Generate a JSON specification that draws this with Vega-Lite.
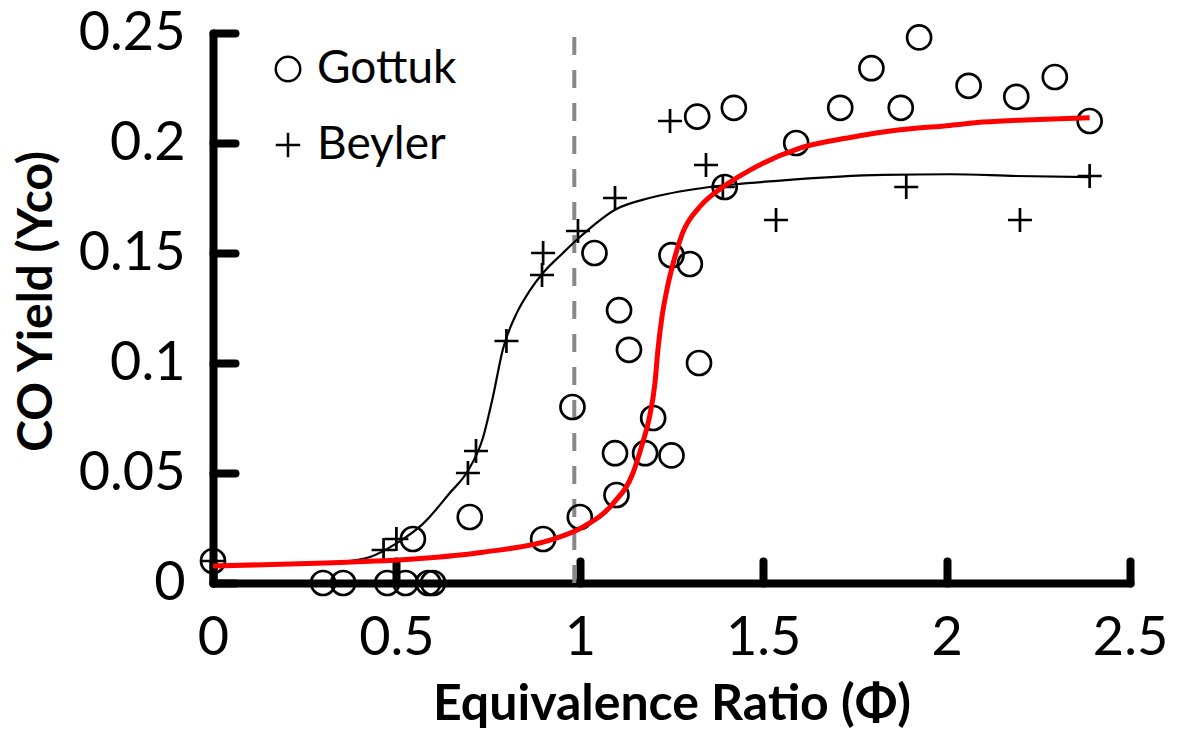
{
  "$schema": "https://vega.github.io/schema/vega-lite/v6.json",
  "autosize": "none",
  "width": 917,
  "height": 550,
  "padding": {"left": 213, "top": 33, "right": 47, "bottom": 159},
  "background": "white",
  "config": {
    "view": {"stroke": null},
    "font": "Lato",
    "axis": {
      "grid": false,
      "domainColor": "black",
      "domainWidth": 8,
      "domainCap": "round",
      "tickColor": "black",
      "tickWidth": 8,
      "tickCap": "round",
      "tickSize": -22,
      "labelFlush": false,
      "labelFont": "Lato",
      "labelFontSize": 54,
      "labelColor": "black",
      "titleFont": "Lato",
      "titleFontWeight": "bold",
      "titleColor": "black"
    }
  },
  "datasets": {
    "points": [
      {"phi": 0, "yco": 0.01, "source": "Gottuk"},
      {"phi": 0.3, "yco": 0, "source": "Gottuk"},
      {"phi": 0.355, "yco": 0, "source": "Gottuk"},
      {"phi": 0.475, "yco": 0, "source": "Gottuk"},
      {"phi": 0.525, "yco": 0, "source": "Gottuk"},
      {"phi": 0.587, "yco": 0, "source": "Gottuk"},
      {"phi": 0.6, "yco": 0, "source": "Gottuk"},
      {"phi": 0.545, "yco": 0.02, "source": "Gottuk"},
      {"phi": 0.7, "yco": 0.03, "source": "Gottuk"},
      {"phi": 0.9, "yco": 0.02, "source": "Gottuk"},
      {"phi": 1.0, "yco": 0.03, "source": "Gottuk"},
      {"phi": 1.1, "yco": 0.04, "source": "Gottuk"},
      {"phi": 0.98, "yco": 0.08, "source": "Gottuk"},
      {"phi": 1.04, "yco": 0.15, "source": "Gottuk"},
      {"phi": 1.107, "yco": 0.124, "source": "Gottuk"},
      {"phi": 1.134, "yco": 0.106, "source": "Gottuk"},
      {"phi": 1.096, "yco": 0.059, "source": "Gottuk"},
      {"phi": 1.178, "yco": 0.059, "source": "Gottuk"},
      {"phi": 1.2, "yco": 0.075, "source": "Gottuk"},
      {"phi": 1.25, "yco": 0.058, "source": "Gottuk"},
      {"phi": 1.25, "yco": 0.149, "source": "Gottuk"},
      {"phi": 1.3, "yco": 0.145, "source": "Gottuk"},
      {"phi": 1.325, "yco": 0.1, "source": "Gottuk"},
      {"phi": 1.32, "yco": 0.212, "source": "Gottuk"},
      {"phi": 1.42, "yco": 0.216, "source": "Gottuk"},
      {"phi": 1.395, "yco": 0.18, "source": "Gottuk"},
      {"phi": 1.59, "yco": 0.2, "source": "Gottuk"},
      {"phi": 1.71, "yco": 0.216, "source": "Gottuk"},
      {"phi": 1.795, "yco": 0.234, "source": "Gottuk"},
      {"phi": 1.875, "yco": 0.216, "source": "Gottuk"},
      {"phi": 1.925, "yco": 0.248, "source": "Gottuk"},
      {"phi": 2.06, "yco": 0.226, "source": "Gottuk"},
      {"phi": 2.19, "yco": 0.221, "source": "Gottuk"},
      {"phi": 2.295, "yco": 0.23, "source": "Gottuk"},
      {"phi": 2.39, "yco": 0.21, "source": "Gottuk"},
      {"phi": 0, "yco": 0.01, "source": "Beyler"},
      {"phi": 0.465, "yco": 0.015, "source": "Beyler"},
      {"phi": 0.5, "yco": 0.02, "source": "Beyler"},
      {"phi": 0.695, "yco": 0.05, "source": "Beyler"},
      {"phi": 0.717, "yco": 0.06, "source": "Beyler"},
      {"phi": 0.8, "yco": 0.11, "source": "Beyler"},
      {"phi": 0.897, "yco": 0.14, "source": "Beyler"},
      {"phi": 0.9, "yco": 0.15, "source": "Beyler"},
      {"phi": 0.995, "yco": 0.16, "source": "Beyler"},
      {"phi": 1.096, "yco": 0.175, "source": "Beyler"},
      {"phi": 1.246, "yco": 0.21, "source": "Beyler"},
      {"phi": 1.344, "yco": 0.19, "source": "Beyler"},
      {"phi": 1.39, "yco": 0.18, "source": "Beyler"},
      {"phi": 1.535, "yco": 0.165, "source": "Beyler"},
      {"phi": 1.89, "yco": 0.18, "source": "Beyler"},
      {"phi": 2.2, "yco": 0.165, "source": "Beyler"},
      {"phi": 2.39, "yco": 0.185, "source": "Beyler"}
    ],
    "fits": [
      {"phi": 0, "yco": 0.0082, "fit": "Beyler"},
      {"phi": 0.2, "yco": 0.0086, "fit": "Beyler"},
      {"phi": 0.35, "yco": 0.0096, "fit": "Beyler"},
      {"phi": 0.428, "yco": 0.0118, "fit": "Beyler"},
      {"phi": 0.5, "yco": 0.018, "fit": "Beyler"},
      {"phi": 0.573, "yco": 0.027, "fit": "Beyler"},
      {"phi": 0.646, "yco": 0.041, "fit": "Beyler"},
      {"phi": 0.695, "yco": 0.051, "fit": "Beyler"},
      {"phi": 0.736, "yco": 0.066, "fit": "Beyler"},
      {"phi": 0.763, "yco": 0.0845, "fit": "Beyler"},
      {"phi": 0.79, "yco": 0.106, "fit": "Beyler"},
      {"phi": 0.829, "yco": 0.123, "fit": "Beyler"},
      {"phi": 0.864, "yco": 0.133, "fit": "Beyler"},
      {"phi": 0.9, "yco": 0.141, "fit": "Beyler"},
      {"phi": 0.954, "yco": 0.15, "fit": "Beyler"},
      {"phi": 0.992, "yco": 0.156, "fit": "Beyler"},
      {"phi": 1.1, "yco": 0.17, "fit": "Beyler"},
      {"phi": 1.19, "yco": 0.175, "fit": "Beyler"},
      {"phi": 1.355, "yco": 0.18, "fit": "Beyler"},
      {"phi": 1.554, "yco": 0.183, "fit": "Beyler"},
      {"phi": 1.827, "yco": 0.1855, "fit": "Beyler"},
      {"phi": 2.01, "yco": 0.1858, "fit": "Beyler"},
      {"phi": 2.19, "yco": 0.185, "fit": "Beyler"},
      {"phi": 2.39, "yco": 0.1845, "fit": "Beyler"},
      {"phi": 0, "yco": 0.0077, "fit": "Gottuk"},
      {"phi": 0.283, "yco": 0.009, "fit": "Gottuk"},
      {"phi": 0.556, "yco": 0.011, "fit": "Gottuk"},
      {"phi": 0.736, "yco": 0.014, "fit": "Gottuk"},
      {"phi": 0.919, "yco": 0.0195, "fit": "Gottuk"},
      {"phi": 1.009, "yco": 0.0255, "fit": "Gottuk"},
      {"phi": 1.09, "yco": 0.036, "fit": "Gottuk"},
      {"phi": 1.145, "yco": 0.05, "fit": "Gottuk"},
      {"phi": 1.17, "yco": 0.063, "fit": "Gottuk"},
      {"phi": 1.19, "yco": 0.0755, "fit": "Gottuk"},
      {"phi": 1.205, "yco": 0.091, "fit": "Gottuk"},
      {"phi": 1.213, "yco": 0.106, "fit": "Gottuk"},
      {"phi": 1.224, "yco": 0.121, "fit": "Gottuk"},
      {"phi": 1.237, "yco": 0.133, "fit": "Gottuk"},
      {"phi": 1.254, "yco": 0.145, "fit": "Gottuk"},
      {"phi": 1.28, "yco": 0.159, "fit": "Gottuk"},
      {"phi": 1.327, "yco": 0.171, "fit": "Gottuk"},
      {"phi": 1.39, "yco": 0.18, "fit": "Gottuk"},
      {"phi": 1.464, "yco": 0.1877, "fit": "Gottuk"},
      {"phi": 1.6, "yco": 0.1977, "fit": "Gottuk"},
      {"phi": 1.737, "yco": 0.2025, "fit": "Gottuk"},
      {"phi": 1.873, "yco": 0.206, "fit": "Gottuk"},
      {"phi": 2.01, "yco": 0.208, "fit": "Gottuk"},
      {"phi": 2.1, "yco": 0.2095, "fit": "Gottuk"},
      {"phi": 2.25, "yco": 0.2107, "fit": "Gottuk"},
      {"phi": 2.39, "yco": 0.2115, "fit": "Gottuk"}
    ],
    "stoich": [{"phi": 0.985, "ylo": 0, "yhi": 0.25}]
  },
  "layer": [
    {
      "data": {"name": "stoich"},
      "mark": {"type": "rule", "color": "#888888", "strokeWidth": 4, "strokeDash": [18, 15]},
      "encoding": {
        "x": {"field": "phi", "type": "quantitative",
          "scale": {"domain": [0, 2.5], "nice": false, "zero": false},
          "axis": {"values": [0, 0.5, 1, 1.5, 2, 2.5], "format": "~g", "labelPadding": 50,
            "title": "Equivalence Ratio (Φ)", "titleFontSize": 50, "titlePadding": 14}},
        "y": {"field": "ylo", "type": "quantitative",
          "scale": {"domain": [0, 0.25], "nice": false},
          "axis": {"values": [0, 0.05, 0.1, 0.15, 0.2, 0.25], "format": "~g", "labelPadding": 50,
            "title": "CO Yield (Yco)", "titleFontSize": 48, "titleBaseline": "middle", "titleX": -176, "titleY": 268}},
        "y2": {"field": "yhi"}
      }
    },
    {
      "data": {"name": "points"},
      "mark": {"type": "point", "filled": false, "color": "black", "strokeWidth": 2.7, "size": 575, "opacity": 1},
      "encoding": {
        "x": {"field": "phi", "type": "quantitative"},
        "y": {"field": "yco", "type": "quantitative"},
        "shape": {"field": "source", "type": "nominal",
          "scale": {"domain": ["Gottuk", "Beyler"], "range": ["circle", "M-1,0H1M0,-1V1"]},
          "legend": {"orient": "none", "legendX": 52, "legendY": 13, "title": null,
            "labelFont": "Lato", "labelFontSize": 46, "labelColor": "black",
            "symbolSize": 600, "symbolStrokeWidth": 2.5, "symbolStrokeColor": "black",
            "rowPadding": 30, "labelOffset": 6, "padding": 0}}
      }
    },
    {
      "data": {"name": "fits"},
      "transform": [{"filter": "datum.fit === 'Beyler'"}],
      "mark": {"type": "line", "color": "black", "strokeWidth": 2.2, "interpolate": "monotone"},
      "encoding": {
        "x": {"field": "phi", "type": "quantitative"},
        "y": {"field": "yco", "type": "quantitative"}
      }
    },
    {
      "data": {"name": "fits"},
      "transform": [{"filter": "datum.fit === 'Gottuk'"}],
      "mark": {"type": "line", "color": "#ff0000", "strokeWidth": 5, "interpolate": "monotone"},
      "encoding": {
        "x": {"field": "phi", "type": "quantitative"},
        "y": {"field": "yco", "type": "quantitative"}
      }
    }
  ]
}
